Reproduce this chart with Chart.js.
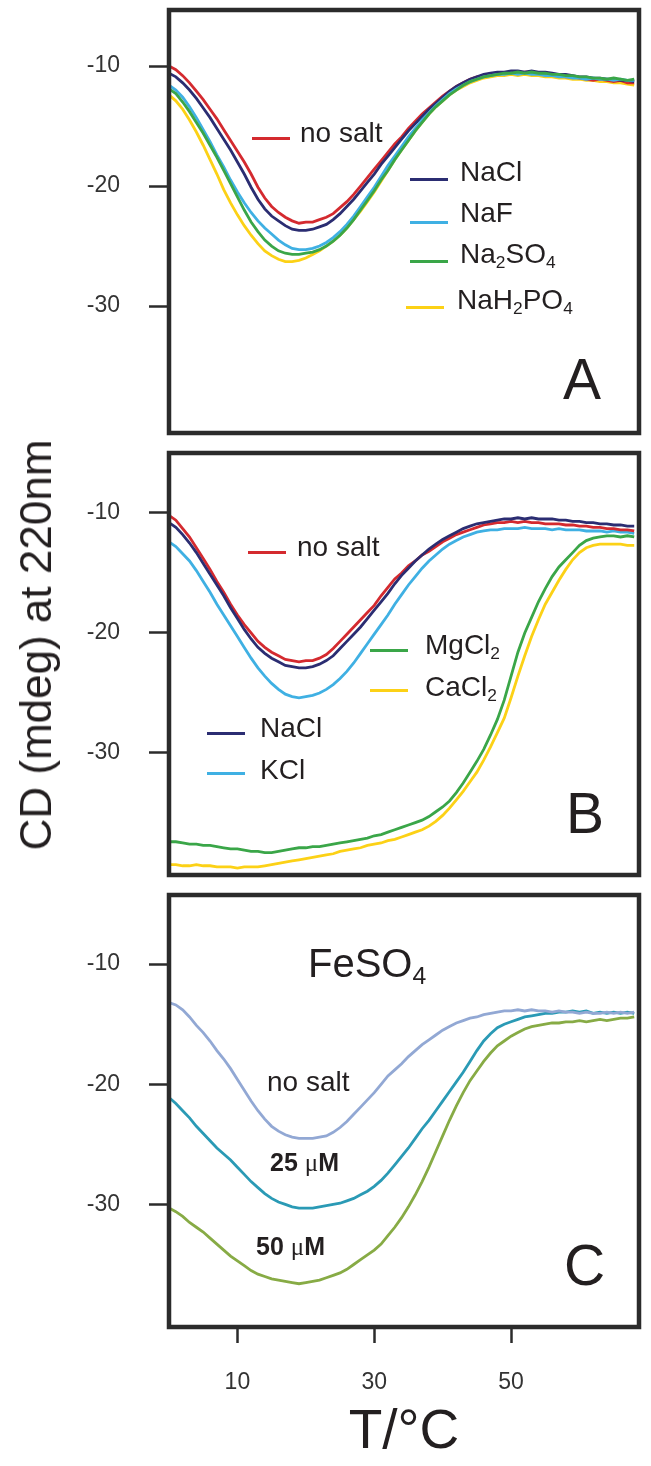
<!DOCTYPE html>
<html lang="en">
<head>
<meta charset="UTF-8">
<title>CD at 220nm vs temperature</title>
<script src="https://cdn.jsdelivr.net/npm/chart.js"></script>
<style>
  body { margin: 0; background: #fff; }
  #page { position: relative; width: 651px; height: 1466px; overflow: hidden;
          font-family: "Liberation Sans", Arial, sans-serif; color: #231f20; }
  canvas { position: absolute; left: 0; }
  .lbl { position: absolute; font-size: 28px; line-height: 1; white-space: nowrap; z-index: 2; }
  .lbl sub { font-size: 62%; vertical-align: -0.3em; line-height: 0; }
  .sw { position: absolute; width: 38px; height: 3px; z-index: 2; }
  .big { position: absolute; font-size: 57px; line-height: 1; z-index: 2; }
  .bold { font-weight: bold; font-size: 25px; }
  .mu { font-weight: normal; font-family: "Liberation Serif", serif; }
  #ytitle { position: absolute; left: 36px; top: 645px; font-size: 44px; line-height: 1; white-space: nowrap;
            transform: translate(-50%, -50%) rotate(-90deg); z-index: 2; }
</style>
</head>
<body>
<div id="page">
  <canvas id="chartA" width="651" height="443" style="top:0px"></canvas>
  <canvas id="chartB" width="651" height="443" style="top:443px"></canvas>
  <canvas id="chartC" width="651" height="580" style="top:886px"></canvas>

  <!-- panel A annotations -->
  <div class="sw" style="left:252px; top:137px; background:#d42a2f"></div>
  <div class="lbl" style="left:300px; top:119px">no salt</div>
  <div class="sw" style="left:410px; top:178px; background:#2b2d72"></div>
  <div class="lbl" style="left:460px; top:158px">NaCl</div>
  <div class="sw" style="left:410px; top:221px; background:#3fb0e3"></div>
  <div class="lbl" style="left:460px; top:199px">NaF</div>
  <div class="sw" style="left:410px; top:260px; background:#3aa648"></div>
  <div class="lbl" style="left:460px; top:240px">Na<sub>2</sub>SO<sub>4</sub></div>
  <div class="sw" style="left:406px; top:306px; background:#fcd116"></div>
  <div class="lbl" style="left:457px; top:286px">NaH<sub>2</sub>PO<sub>4</sub></div>
  <div class="big" style="left:563px; top:351px">A</div>

  <!-- panel B annotations -->
  <div class="sw" style="left:248px; top:551px; background:#d42a2f"></div>
  <div class="lbl" style="left:297px; top:533px">no salt</div>
  <div class="sw" style="left:370px; top:649px; background:#3aa648"></div>
  <div class="lbl" style="left:425px; top:631px">MgCl<sub>2</sub></div>
  <div class="sw" style="left:370px; top:689px; background:#fcd116"></div>
  <div class="lbl" style="left:425px; top:673px">CaCl<sub>2</sub></div>
  <div class="sw" style="left:207px; top:732px; background:#2b2d72"></div>
  <div class="lbl" style="left:260px; top:714px">NaCl</div>
  <div class="sw" style="left:207px; top:772px; background:#3fb0e3"></div>
  <div class="lbl" style="left:260px; top:756px">KCl</div>
  <div class="big" style="left:566px; top:785px">B</div>

  <!-- panel C annotations -->
  <div class="lbl" style="left:308px; top:943px; font-size:40px">FeSO<sub>4</sub></div>
  <div class="lbl" style="left:267px; top:1068px">no salt</div>
  <div class="lbl bold" style="left:270px; top:1150px">25 <span class="mu">&mu;</span>M</div>
  <div class="lbl bold" style="left:256px; top:1234px">50 <span class="mu">&mu;</span>M</div>
  <div class="big" style="left:564px; top:1237px">C</div>

  <div id="ytitle">CD (mdeg) at 220nm</div>
</div>

<script>
// temperature (°C) of every sample, shared by all curves
const temps = [0,1,2,3,4,5,6,7,8,9,10,11,12,13,14,15,16,17,18,19,20,21,22,23,24,25,26,27,28,29,30,31,32,33,34,
  35,36,37,38,39,40,41,42,43,44,45,46,47,48,49,50,51,52,53,54,55,56,57,58,59,60,61,62,63,64,65,66,67,68];

const yTicks = [-10, -20, -30];
const xTicks = [10, 30, 50];

// panel A - sodium salts
const aNoSalt = [-10.0,-10.3,-10.8,-11.4,-12.1,-12.8,-13.6,-14.4,-15.3,-16.2,-17.1,-18.0,-19.0,-20.1,-21.0,-21.7,-22.2,-22.6,-22.9,-23.1,
  -23.0,-23.0,-22.8,-22.6,-22.3,-21.8,-21.3,-20.7,-20.0,-19.3,-18.6,-17.9,-17.2,-16.5,-15.9,-15.2,-14.6,-14.0,-13.5,-13.0,
  -12.5,-12.1,-11.7,-11.4,-11.1,-10.9,-10.8,-10.7,-10.7,-10.6,-10.5,-10.6,-10.5,-10.5,-10.6,-10.7,-10.7,-10.8,-10.9,-10.9,
  -11.0,-11.1,-11.2,-11.1,-11.2,-11.3,-11.2,-11.4,-11.4];
const aNaCl = [-10.6,-10.9,-11.4,-12.0,-12.7,-13.5,-14.3,-15.2,-16.1,-17.0,-18.0,-19.0,-20.1,-21.1,-21.9,-22.5,-22.9,-23.3,-23.6,-23.7,
  -23.7,-23.6,-23.4,-23.2,-22.8,-22.3,-21.7,-21.1,-20.4,-19.7,-19.0,-18.2,-17.5,-16.8,-16.1,-15.4,-14.8,-14.2,-13.6,-13.1,
  -12.6,-12.1,-11.7,-11.4,-11.1,-10.9,-10.7,-10.6,-10.5,-10.5,-10.4,-10.4,-10.5,-10.4,-10.5,-10.5,-10.6,-10.7,-10.7,-10.8,
  -10.9,-10.9,-11.0,-11.0,-11.1,-11.1,-11.2,-11.2,-11.3];
const aNaF = [-11.6,-12.0,-12.6,-13.4,-14.3,-15.3,-16.3,-17.4,-18.4,-19.5,-20.5,-21.4,-22.2,-22.9,-23.5,-24.0,-24.5,-24.9,-25.2,-25.3,
  -25.3,-25.2,-25.0,-24.7,-24.3,-23.8,-23.2,-22.5,-21.7,-20.9,-20.1,-19.2,-18.3,-17.5,-16.7,-15.9,-15.2,-14.5,-13.9,-13.3,
  -12.8,-12.3,-11.9,-11.6,-11.3,-11.1,-10.9,-10.8,-10.7,-10.7,-10.6,-10.7,-10.6,-10.7,-10.7,-10.8,-10.8,-10.9,-10.9,-11.0,
  -11.0,-11.1,-11.0,-11.1,-11.1,-11.2,-11.1,-11.2,-11.2];
const aNa2SO4 = [-11.9,-12.3,-13.0,-13.8,-14.7,-15.6,-16.6,-17.6,-18.7,-19.8,-20.9,-22.0,-23.0,-23.8,-24.5,-25.0,-25.4,-25.6,-25.7,-25.7,
  -25.6,-25.5,-25.3,-25.0,-24.6,-24.1,-23.5,-22.8,-22.0,-21.2,-20.4,-19.5,-18.7,-17.8,-17.0,-16.2,-15.4,-14.7,-14.0,-13.4,
  -12.9,-12.4,-12.0,-11.6,-11.3,-11.1,-10.9,-10.8,-10.7,-10.6,-10.6,-10.5,-10.6,-10.5,-10.6,-10.6,-10.7,-10.7,-10.8,-10.8,
  -10.9,-10.9,-11.0,-11.0,-11.1,-11.0,-11.1,-11.2,-11.1];
const aNaH2PO4 = [-12.4,-12.9,-13.6,-14.5,-15.5,-16.6,-17.8,-19.0,-20.3,-21.4,-22.4,-23.3,-24.1,-24.8,-25.4,-25.8,-26.1,-26.3,-26.3,-26.2,
  -26.0,-25.7,-25.4,-25.0,-24.6,-24.1,-23.5,-22.8,-22.1,-21.3,-20.5,-19.6,-18.7,-17.8,-17.0,-16.2,-15.4,-14.7,-14.0,-13.4,
  -12.9,-12.4,-12.0,-11.7,-11.4,-11.2,-11.0,-10.9,-10.8,-10.8,-10.7,-10.8,-10.7,-10.8,-10.8,-10.9,-10.9,-11.0,-11.0,-11.1,
  -11.1,-11.2,-11.2,-11.3,-11.3,-11.4,-11.4,-11.5,-11.6];

// panel B - chlorides
const bNoSalt = [-10.2,-10.6,-11.3,-12.0,-12.9,-13.8,-14.7,-15.7,-16.6,-17.6,-18.5,-19.3,-20.0,-20.7,-21.2,-21.6,-21.9,-22.2,-22.3,-22.4,
  -22.3,-22.3,-22.1,-21.8,-21.3,-20.7,-20.1,-19.5,-18.9,-18.3,-17.7,-16.9,-16.2,-15.5,-15.0,-14.4,-14.0,-13.5,-13.2,-12.8,
  -12.4,-12.1,-11.8,-11.6,-11.4,-11.2,-11.0,-10.9,-10.8,-10.8,-10.7,-10.8,-10.7,-10.8,-10.8,-10.9,-10.9,-10.9,-11.0,-11.0,
  -11.1,-11.1,-11.2,-11.2,-11.3,-11.3,-11.4,-11.4,-11.5];
const bNaCl = [-10.8,-11.2,-11.8,-12.5,-13.3,-14.2,-15.1,-16.0,-16.9,-17.9,-18.8,-19.7,-20.5,-21.2,-21.7,-22.1,-22.4,-22.7,-22.8,-22.9,
  -22.9,-22.8,-22.6,-22.3,-21.9,-21.3,-20.7,-20.1,-19.5,-18.8,-18.1,-17.4,-16.7,-15.9,-15.2,-14.6,-14.0,-13.5,-13.0,-12.6,
  -12.2,-11.9,-11.6,-11.3,-11.1,-10.9,-10.8,-10.7,-10.6,-10.5,-10.5,-10.4,-10.5,-10.4,-10.5,-10.5,-10.5,-10.6,-10.6,-10.7,
  -10.7,-10.8,-10.8,-10.9,-10.9,-11.0,-11.0,-11.1,-11.1];
const bKCl = [-12.4,-12.8,-13.4,-14.0,-14.8,-15.7,-16.6,-17.6,-18.5,-19.4,-20.3,-21.2,-22.1,-22.9,-23.6,-24.2,-24.7,-25.1,-25.3,-25.4,
  -25.3,-25.2,-25.0,-24.7,-24.3,-23.8,-23.2,-22.5,-21.7,-20.9,-20.1,-19.3,-18.5,-17.6,-16.8,-16.0,-15.3,-14.6,-14.0,-13.5,
  -13.0,-12.6,-12.3,-12.0,-11.8,-11.6,-11.5,-11.4,-11.4,-11.3,-11.3,-11.3,-11.2,-11.3,-11.3,-11.3,-11.4,-11.3,-11.4,-11.4,
  -11.4,-11.5,-11.5,-11.5,-11.6,-11.5,-11.6,-11.6,-11.7];
const bMgCl2 = [-37.4,-37.4,-37.5,-37.6,-37.6,-37.7,-37.7,-37.8,-37.9,-38.0,-38.0,-38.1,-38.2,-38.2,-38.3,-38.3,-38.2,-38.1,-38.0,-37.9,
  -37.9,-37.8,-37.8,-37.7,-37.6,-37.5,-37.4,-37.3,-37.2,-37.1,-36.9,-36.8,-36.6,-36.4,-36.2,-36.0,-35.8,-35.6,-35.3,-34.9,
  -34.5,-34.0,-33.3,-32.5,-31.6,-30.7,-29.7,-28.5,-27.2,-25.6,-23.6,-21.6,-20.0,-18.7,-17.4,-16.3,-15.3,-14.5,-13.9,-13.3,
  -12.7,-12.3,-12.1,-12.0,-11.9,-11.9,-12.0,-11.9,-12.0];
const bCaCl2 = [-39.3,-39.3,-39.4,-39.4,-39.3,-39.4,-39.4,-39.5,-39.5,-39.5,-39.6,-39.5,-39.5,-39.5,-39.4,-39.3,-39.2,-39.1,-39.0,-38.9,
  -38.8,-38.7,-38.6,-38.5,-38.4,-38.2,-38.1,-38.0,-37.9,-37.7,-37.6,-37.5,-37.3,-37.2,-37.0,-36.8,-36.6,-36.4,-36.1,-35.7,
  -35.2,-34.6,-33.9,-33.2,-32.4,-31.6,-30.6,-29.5,-28.3,-27.1,-25.4,-23.6,-21.9,-20.3,-18.9,-17.6,-16.6,-15.6,-14.7,-13.9,
  -13.3,-12.9,-12.7,-12.6,-12.6,-12.6,-12.6,-12.7,-12.7];

// panel C - FeSO4
const cNoSalt = [-13.2,-13.4,-13.8,-14.4,-15.1,-15.7,-16.4,-17.2,-17.9,-18.7,-19.6,-20.5,-21.4,-22.2,-22.9,-23.5,-23.9,-24.2,-24.4,-24.5,
  -24.5,-24.5,-24.4,-24.3,-24.0,-23.6,-23.1,-22.5,-21.9,-21.3,-20.7,-20.0,-19.3,-18.8,-18.3,-17.7,-17.2,-16.7,-16.3,-15.9,
  -15.5,-15.2,-14.9,-14.7,-14.5,-14.4,-14.2,-14.1,-14.0,-13.9,-13.9,-13.8,-13.9,-13.8,-13.9,-13.9,-14.0,-13.9,-14.0,-14.0,
  -14.1,-14.0,-14.1,-14.1,-14.0,-14.1,-14.0,-14.1,-14.0];
const c25uM = [-21.1,-21.6,-22.2,-22.8,-23.5,-24.1,-24.7,-25.3,-25.8,-26.3,-26.9,-27.5,-28.1,-28.6,-29.1,-29.5,-29.8,-30.0,-30.2,-30.3,
  -30.3,-30.3,-30.2,-30.1,-30.0,-29.9,-29.7,-29.5,-29.2,-28.9,-28.5,-28.0,-27.4,-26.7,-26.0,-25.3,-24.5,-23.7,-23.0,-22.2,
  -21.4,-20.6,-19.8,-19.0,-18.1,-17.2,-16.4,-15.8,-15.3,-15.0,-14.8,-14.6,-14.4,-14.3,-14.2,-14.1,-14.1,-14.0,-14.0,-13.9,
  -14.0,-13.9,-14.1,-14.0,-14.1,-14.0,-14.1,-14.0,-14.1];
const c50uM = [-30.3,-30.6,-31.0,-31.5,-31.9,-32.3,-32.8,-33.3,-33.8,-34.3,-34.7,-35.1,-35.5,-35.8,-36.0,-36.2,-36.3,-36.4,-36.5,-36.6,
  -36.5,-36.4,-36.3,-36.1,-35.9,-35.7,-35.4,-35.0,-34.6,-34.2,-33.8,-33.3,-32.6,-31.9,-31.1,-30.2,-29.2,-28.1,-26.9,-25.6,
  -24.3,-23.0,-21.8,-20.7,-19.7,-18.9,-18.1,-17.4,-16.8,-16.4,-16.0,-15.7,-15.4,-15.2,-15.1,-15.0,-14.9,-14.9,-14.8,-14.8,
  -14.7,-14.8,-14.7,-14.6,-14.7,-14.6,-14.5,-14.5,-14.4];

const frameColor = '#2b2b2b';
const textColor = '#333333';

// heavy box around each plot area
const framePlugin = {
    id: 'frame',
    afterDatasetsDraw(chart) {
        const { ctx, chartArea: a } = chart;
        ctx.save();
        ctx.strokeStyle = frameColor;
        ctx.lineWidth = 4.5;
        ctx.strokeRect(a.left, a.top, a.right - a.left, a.bottom - a.top);
        ctx.restore();
    }
};

function series(values, color) {
    return {
        data: temps.map((t, i) => ({ x: t, y: values[i] })),
        borderColor: color,
        borderWidth: 2.8,
        pointRadius: 0,
        tension: 0,
        fill: false
    };
}

function makePanel(id, datasets, yMin, yMax, padTop, padBottom, showX) {
    return new Chart(document.getElementById(id), {
        type: 'line',
        data: { datasets: datasets },
        plugins: [framePlugin],
        options: {
            responsive: false,
            animation: false,
            events: [],
            layout: { padding: { top: padTop, bottom: padBottom, left: 0, right: 12 } },
            plugins: { legend: { display: false }, tooltip: { enabled: false } },
            scales: {
                x: {
                    type: 'linear',
                    min: 0, max: 68.7,
                    display: showX,
                    afterBuildTicks: s => { s.ticks = xTicks.map(v => ({ value: v })); },
                    afterFit: s => {
                        if (showX) s.height = 139;
                        s.paddingLeft = 0; s.paddingRight = 0;
                    },
                    border: { display: false },
                    grid: { drawOnChartArea: false, drawTicks: true, tickLength: 16, tickWidth: 2.5, tickColor: frameColor },
                    ticks: { color: textColor, padding: 26, maxRotation: 0, autoSkip: false,
                             font: { family: 'Liberation Sans, Arial, sans-serif', size: 23 } },
                    title: { display: showX, text: 'T/°C', color: '#231f20', padding: { top: 0, bottom: 0 },
                             font: { family: 'Liberation Sans, Arial, sans-serif', size: 55 } }
                },
                y: {
                    type: 'linear',
                    min: yMin, max: yMax,
                    afterBuildTicks: s => { s.ticks = yTicks.map(v => ({ value: v })); },
                    afterFit: s => {
                        s.width = 169;
                        s.paddingTop = 0; s.paddingBottom = 0;
                    },
                    border: { display: false },
                    grid: { drawOnChartArea: false, drawTicks: true, tickLength: 20, tickWidth: 2.5, tickColor: frameColor },
                    ticks: { color: textColor, padding: 29,
                             font: { family: 'Liberation Sans, Arial, sans-serif', size: 23 } }
                }
            }
        }
    });
}

makePanel('chartA', [
    series(aNa2SO4, '#3aa648'),
    series(aNaF, '#3fb0e3'),
    series(aNaCl, '#2b2d72'),
    series(aNoSalt, '#d42a2f'),
    series(aNaH2PO4, '#fcd116')
], -40.58, -5.33, 10, 10, false);

makePanel('chartB', [
    series(bNaCl, '#2b2d72'),
    series(bNoSalt, '#d42a2f'),
    series(bKCl, '#3fb0e3'),
    series(bMgCl2, '#3aa648'),
    series(bCaCl2, '#fcd116')
], -40.17, -5.0, 10, 11, false);

makePanel('chartC', [
    series(cNoSalt, '#92a8d4'),
    series(c25uM, '#2a9ab5'),
    series(c50uM, '#87ab45')
], -40.2, -4.25, 9, 0, true);
</script>
</body>
</html>
